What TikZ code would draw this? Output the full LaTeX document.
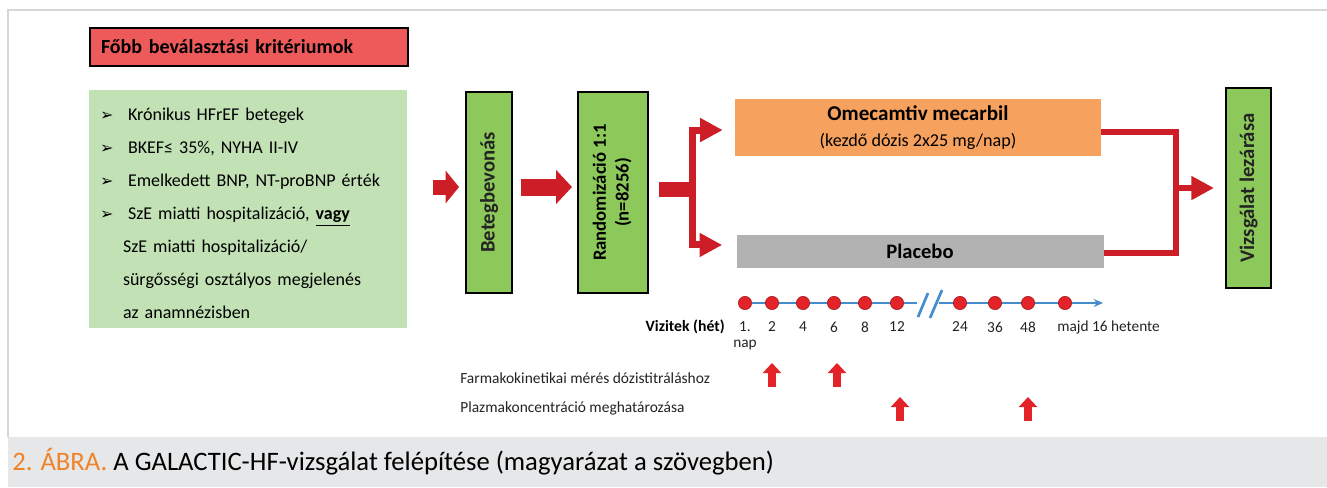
\documentclass[tikz,border=0pt]{standalone}
\usepackage{fontspec}
\setmainfont{Carlito}
\newfontfamily\symfont{DejaVu Sans}
\usepackage{graphicx}
\usetikzlibrary{arrows.meta,backgrounds}

\definecolor{headred}{RGB}{238,90,90}
\definecolor{critgreen}{RGB}{194,226,182}
\definecolor{boxgreen}{RGB}{141,200,90}
\definecolor{arrowred}{RGB}{205,30,40}
\definecolor{omecorange}{RGB}{247,161,95}
\definecolor{placgray}{RGB}{178,178,178}
\definecolor{lineblue}{RGB}{70,140,205}
\definecolor{dotred}{RGB}{228,35,40}
\definecolor{captionbg}{RGB}{230,231,233}
\definecolor{captionorange}{RGB}{240,130,40}
\definecolor{framegray}{RGB}{215,215,215}
\definecolor{textdark}{RGB}{35,35,35}

\newcommand{\critbullet}{\makebox[21pt][l]{\symfont\bfseries\fontsize{12}{12}\selectfont ➢}}

\begin{document}
\begin{tikzpicture}[x=0.75pt,y=-0.75pt,
  font=\color{textdark},
  greenbox/.style={draw=black, line width=1.5pt, fill=boxgreen, inner sep=0pt,
    font=\bfseries\fontsize{15.5}{17}\selectfont\color{textdark}},
  fatarrow/.style={draw=arrowred, line width=11.25pt, -{Triangle[width=24pt,length=10pt]}},
  redline/.style={draw=arrowred, line width=5pt, miter limit=4},
  redtip/.style={-{Triangle[width=17pt,length=17pt]}},
  visit/.style={circle, fill=dotred, draw=dotred!70!black, line width=0.4pt, minimum size=10pt, inner sep=0pt},
  ticklabel/.style={font=\fontsize{11.5}{13}\selectfont\color{textdark}, inner sep=0pt},
  uparrow/.style={draw=dotred, line width=6.5pt, -{Triangle[width=13.5pt,length=7.5pt]}},
  note/.style={font=\fontsize{11.6}{13}\selectfont\color{textdark}, anchor=west, inner sep=0pt}]

\useasboundingbox (0,0) rectangle (1327,487);
% frame and caption band
\draw[framegray, line width=0.8pt] (1340,10) -- (8,10) -- (8,437);
\fill[captionbg] (8,437) rectangle (1327,487);
\node[anchor=west, inner sep=0pt, font=\fontsize{20}{22}\selectfont] (caption) at (12,462)
  {\textcolor{captionorange}{2. ÁBRA.} A GALACTIC-HF-vizsgálat felépítése (magyarázat a szövegben)};

% inclusion criteria
\node[draw=black, line width=1.8pt, fill=headred, minimum width=238.5pt, minimum height=28.5pt,
  text width=222pt, inner xsep=8.25pt, align=left, font=\bfseries\fontsize{15}{17}\selectfont] (head) at (249,47)
  {Főbb beválasztási kritériumok};
\node[fill=critgreen, minimum width=238.5pt, minimum height=178.5pt, text width=222pt, inner xsep=8.25pt,
  align=left, font=\fontsize{13.5}{24.75}\selectfont] (crit) at (248,209)
  {\rule{0pt}{16.5pt}\critbullet Krónikus HFrEF betegek\\
   \critbullet BKEF≤ 35\%, NYHA II-IV\\
   \critbullet Emelkedett BNP, NT-proBNP érték\\
   \critbullet SzE miatti hospitalizáció, \textbf{\underline{vagy}}\\
   \hspace*{17.25pt}SzE miatti hospitalizáció/\\
   \hspace*{17.25pt}sürgősségi osztályos megjelenés\\
   \hspace*{17.25pt}az anamnézisben};

% study flow
\node[greenbox, minimum width=34.5pt, minimum height=150.75pt] (enroll) at (489,192.5)
  {\rotatebox{90}{Betegbevonás}};
\node[greenbox, minimum width=52.5pt, minimum height=150.75pt, font=\bfseries\fontsize{14}{16}\selectfont] (rand) at (613,192.5)
  {\rotatebox{90}{\begin{tabular}{@{}c@{}}Randomizáció 1:1\\[1pt](n=8256)\end{tabular}}};
\node[fill=omecorange, minimum width=274.5pt, minimum height=42.75pt, align=center,
  font=\fontsize{13.6}{19}\selectfont] (omec) at (918,127.5)
  {\textbf{\fontsize{15.8}{19}\selectfont Omecamtiv mecarbil}\\(kezdő dózis 2x25 mg/nap)};
\node[fill=placgray, minimum width=275.25pt, minimum height=24.75pt,
  font=\bfseries\fontsize{15.4}{17}\selectfont] (plac) at (920,251.5) {Placebo};
\node[greenbox, minimum width=33.75pt, minimum height=150pt] (close) at (1248.5,188)
  {\rotatebox{90}{Vizsgálat lezárása}};

\coordinate (start) at (433,187);
\coordinate (split) at (692,189);
\coordinate (join) at (1176,188);

\draw[fatarrow, shorten >=4.5pt] (start) -- (start -| enroll.west);
\draw[fatarrow, line width=12.75pt, -{Triangle[width=25pt,length=12pt]}, shorten <=6pt, shorten >=3.75pt]
  (enroll.east |- start) -- (rand.west |- start);
\draw[draw=arrowred, line width=11.25pt, shorten <=7.5pt] (rand.east |- split) -- (split);
\draw[redline, line width=5.25pt, redtip, shorten >=9pt] (split) |- ([yshift=-1.9pt]omec.west);
\draw[redline, line width=5.25pt, redtip, shorten >=10.5pt] (split) |- ([yshift=4.9pt]plac.west);
\draw[redline] ([yshift=-3.4pt]omec.east) -| (join) |- ([yshift=-1.1pt]plac.east);
\draw[redline, line width=4.5pt, redtip, shorten >=8.25pt] (join) -- (close.west |- join);

% visits
\node[anchor=east, inner sep=0pt, font=\bfseries\fontsize{11.8}{13}\selectfont] (vlabel) at (725,327) {Vizitek (hét)};
\foreach \x/\t [count=\i] in {745/1., 772/2, 803/4, 834/6, 865/8, 897/12, 960/24, 995/36, 1028/48}{
  \node[visit] (v\i) at (\x,303) {};
  \node[ticklabel] (t\i) at (\x,327) {\t};
}
\node[visit] (v10) at (1065,303) {};
\node[ticklabel, anchor=west] (t10) at (1057,327) {majd 16 hetente};
\node[ticklabel] (nap) at (745,345) {nap};

\coordinate (brk1) at (917,303);
\coordinate (brk2) at (939,303);
\coordinate (tlend) at (1103,303);
\begin{pgfonlayer}{background}
  \draw[lineblue, line width=2pt] (v1) -- (brk1);
  \draw[lineblue, line width=2pt, -{Stealth[length=7pt,width=6pt]}] (brk2) -- (tlend);
\end{pgfonlayer}
\draw[lineblue, line width=2pt] (918,317) -- (928,293);
\draw[lineblue, line width=2pt] (930,318) -- (942,290);

% sampling
\node[note] (pklabel) at (460,378) {Farmakokinetikai mérés dózistitráláshoz};
\node[note] (pclabel) at (460,408) {Plazmakoncentráció meghatározása};
\foreach \x in {772,837}
  \draw[uparrow] (\x,387) -- (\x,363);
\foreach \x in {900,1028}
  \draw[uparrow] (\x,421) -- (\x,397);
\end{tikzpicture}
\end{document}
